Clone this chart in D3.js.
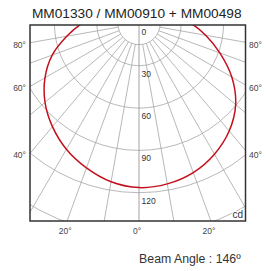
<!DOCTYPE html>
<html>
<head>
<meta charset="utf-8">
<script src="https://cdn.jsdelivr.net/npm/d3@7"></script>
<style>
  body { margin: 0; background: #fff; }
  text { font-family: "Liberation Sans", Arial, sans-serif; }
</style>
</head>
<body>
<div id="chart"></div>
<script>
// Intensity distribution (cd) by angle from nadir, left and right half-planes
const angles = [0, 10, 20, 30, 40, 50, 60, 70, 80, 90, 100];
const leftCd = [116.4, 114, 109, 103, 95.5, 87, 77, 65.5, 52, 40.5, 30];
const rightCd = [116.4, 115.5, 112.5, 107, 99.5, 89.5, 76, 61, 48, 37, 27];

const ringTicks = [0, 30, 60, 90, 120];
const gridRings = [15, 30, 60, 90, 120, 150];
const sideTicks = [80, 60, 40];
const bottomTicks = [-20, 0, 20];
const title = "MM01330 / MM00910 + MM00498";
const beamLabel = "Beam Angle : 146º";

const W = 266, H = 271;
const box = {x0: 30, x1: 245.5, y0: 25, y1: 221};
const cx = 139, cy = 23.5;

const r = d3.scaleLinear().domain([0, 120]).range([0, 169.2]);
const rad = d => d * Math.PI / 180;
const px = (a, v) => cx + r(v) * Math.sin(rad(a));
const py = (a, v) => cy + r(v) * Math.cos(rad(a));

const svg = d3.select("#chart").append("svg")
    .attr("width", W).attr("height", H);

svg.append("clipPath").attr("id", "frame")
  .append("rect")
    .attr("x", box.x0).attr("y", box.y0)
    .attr("width", box.x1 - box.x0).attr("height", box.y1 - box.y0);

const plot = svg.append("g").attr("clip-path", "url(#frame)");

// rings
plot.selectAll("circle.ring")
  .data(gridRings)
  .enter().append("circle")
    .attr("class", "ring")
    .attr("cx", cx).attr("cy", cy)
    .attr("r", d => r(d))
    .attr("fill", "none")
    .attr("stroke", "#a6a6a6")
    .attr("stroke-width", 0.8);

// spokes every 10 degrees
const spokes = d3.range(-80, 81, 10);
plot.selectAll("line.spoke")
  .data(spokes)
  .enter().append("line")
    .attr("class", "spoke")
    .attr("x1", d => d === 0 ? cx : px(d, 15))
    .attr("y1", d => d === 0 ? cy : py(d, 15))
    .attr("x2", d => px(d, 300))
    .attr("y2", d => py(d, 300))
    .attr("stroke", d => d === 0 ? "#8a8a8a" : "#a6a6a6")
    .attr("stroke-width", 0.8);

// curve: left half reversed, then right half
const pts = angles.map((a, i) => [-a, leftCd[i]]).reverse()
  .concat(angles.slice(1).map((a, i) => [a, rightCd[i + 1]]));

plot.append("path")
    .datum(pts)
    .attr("fill", "none")
    .attr("stroke", "#c4101c")
    .attr("stroke-width", 1.5)
    .attr("d", d3.line()
      .x(d => px(d[0], d[1]))
      .y(d => py(d[0], d[1]))
      .curve(d3.curveCatmullRom));

// ring labels
svg.selectAll("text.ringlab")
  .data(ringTicks)
  .enter().append("text")
    .attr("x", cx + 2.5)
    .attr("y", d => cy + r(d) + 11)
    .attr("font-size", 8.5)
    .attr("fill", "#333")
    .text(d => d);

// side labels
sideTicks.forEach(a => {
  const y = cy + (cx - box.x0) / Math.tan(rad(a)) + 5;
  svg.append("text").attr("x", 26).attr("y", y)
    .attr("text-anchor", "end").attr("font-size", 8.5).attr("fill", "#444")
    .text(a + "°");
  svg.append("text").attr("x", 249).attr("y", y)
    .attr("font-size", 8.5).attr("fill", "#444")
    .text(a + "°");
});

// bottom labels
svg.selectAll("text.botlab")
  .data(bottomTicks)
  .enter().append("text")
    .attr("x", d => cx + (box.y1 - cy) * Math.tan(rad(d)) - 2)
    .attr("y", 234)
    .attr("text-anchor", "middle")
    .attr("font-size", 8.5)
    .attr("fill", "#444")
    .text(d => Math.abs(d) + "°");

// unit
svg.append("text")
    .attr("x", 243).attr("y", 217.5)
    .attr("text-anchor", "end")
    .attr("font-size", 10)
    .attr("fill", "#333")
    .attr("stroke", "#fff").attr("stroke-width", 2.5)
    .attr("paint-order", "stroke")
    .text("cd");

// frame
svg.append("rect")
    .attr("x", box.x0).attr("y", box.y0)
    .attr("width", box.x1 - box.x0).attr("height", box.y1 - box.y0)
    .attr("fill", "none")
    .attr("stroke", "#333")
    .attr("stroke-width", 1.5);

svg.append("text")
    .attr("x", 136.7).attr("y", 18.3)
    .attr("text-anchor", "middle")
    .attr("font-size", 13.7)
    .attr("fill", "#222")
    .text(title);

svg.append("text")
    .attr("x", 240.7).attr("y", 262.7)
    .attr("text-anchor", "end")
    .attr("font-size", 12.3)
    .attr("fill", "#333")
    .text(beamLabel);
</script>
</body>
</html>
